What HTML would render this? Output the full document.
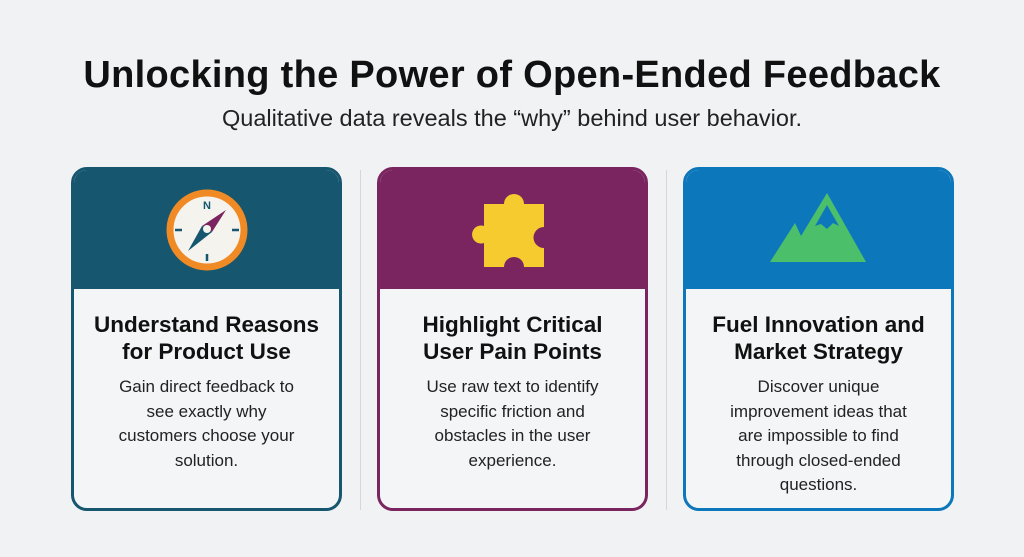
<!DOCTYPE html>
<html><head><style>
*{margin:0;padding:0;box-sizing:border-box}
body{width:1024px;height:557px;background:#f0f2f4;font-family:"Liberation Sans",sans-serif;position:relative;overflow:hidden;color:#111}
h1{position:absolute;top:54px;width:100%;text-align:center;font-size:38px;font-weight:bold;letter-spacing:0.3px}
.sub{position:absolute;top:105px;width:100%;text-align:center;font-size:23.5px;color:#222}
.card{position:absolute;top:167px;width:271px;height:344px;border:3px solid;border-radius:16px;background:#f3f5f6;overflow:hidden}
.hd{height:119px;position:relative}
.t{text-align:center;font-weight:bold;font-size:22.5px;line-height:27px;margin-top:22px}
.b{text-align:center;font-size:17px;line-height:24.5px;color:#222;margin-top:10px;padding:0 34px}
.sep{position:absolute;top:170px;width:1px;height:340px;background:#d4d8dc}
</style></head><body>
<h1>Unlocking the Power of Open-Ended Feedback</h1>
<div class="sub">Qualitative data reveals the “why” behind user behavior.</div>
<div class="sep" style="left:360px"></div>
<div class="sep" style="left:666px"></div>

<div class="card" style="left:71px;border-color:#16566e">
<div class="hd" style="background:#16566e">
<svg width="265" height="121" style="position:absolute;left:0;top:0">
<circle cx="133" cy="60" r="37" fill="#f4f3ee" stroke="#f08a24" stroke-width="7"/>
<text x="133" y="39" text-anchor="middle" font-size="11" font-weight="bold" fill="#16566e" font-family="Liberation Sans">N</text>
<line x1="101" y1="60" x2="108" y2="60" stroke="#16566e" stroke-width="2.5"/>
<line x1="158" y1="60" x2="165" y2="60" stroke="#16566e" stroke-width="2.5"/>
<line x1="133" y1="84" x2="133" y2="91" stroke="#16566e" stroke-width="2.5"/>
<polygon points="152,40 138,62 128,56" fill="#7b2560"/>
<polygon points="114,81 138,62 128,56" fill="#16566e"/>
<circle cx="133" cy="59" r="4" fill="#f4f3ee"/>
</svg></div>
<div class="t">Understand Reasons<br>for Product Use</div>
<div class="b">Gain direct feedback to see exactly why customers choose your solution.</div>
</div>

<div class="card" style="left:377px;border-color:#7b2560">
<div class="hd" style="background:#7b2560">
<svg width="265" height="121" style="position:absolute;left:0;top:0">
<path d="M104,34 H124 A10,10 0 1 1 144,34 H164 V57 A10,10 0 0 0 164,78 V97 H144 A10,10 0 0 0 124,97 H104 V73 A9,9 0 1 1 104,56 Z" fill="#f5cb30"/>
</svg></div>
<div class="t">Highlight Critical<br>User Pain Points</div>
<div class="b">Use raw text to identify specific friction and obstacles in the user experience.</div>
</div>

<div class="card" style="left:683px;border-color:#0d77bb">
<div class="hd" style="background:#0d77bb">
<svg width="265" height="121" style="position:absolute;left:0;top:0">
<polygon points="84,92 109,53 115,66 141,23 180,92" fill="#4cbf6b"/>
<polygon points="141,35 129,56 135,54 141,59 147,53 153,56" fill="#0d77bb"/>
</svg></div>
<div class="t">Fuel Innovation and<br>Market Strategy</div>
<div class="b">Discover unique improvement ideas that are impossible to find through closed-ended questions.</div>
</div>
</body></html>
